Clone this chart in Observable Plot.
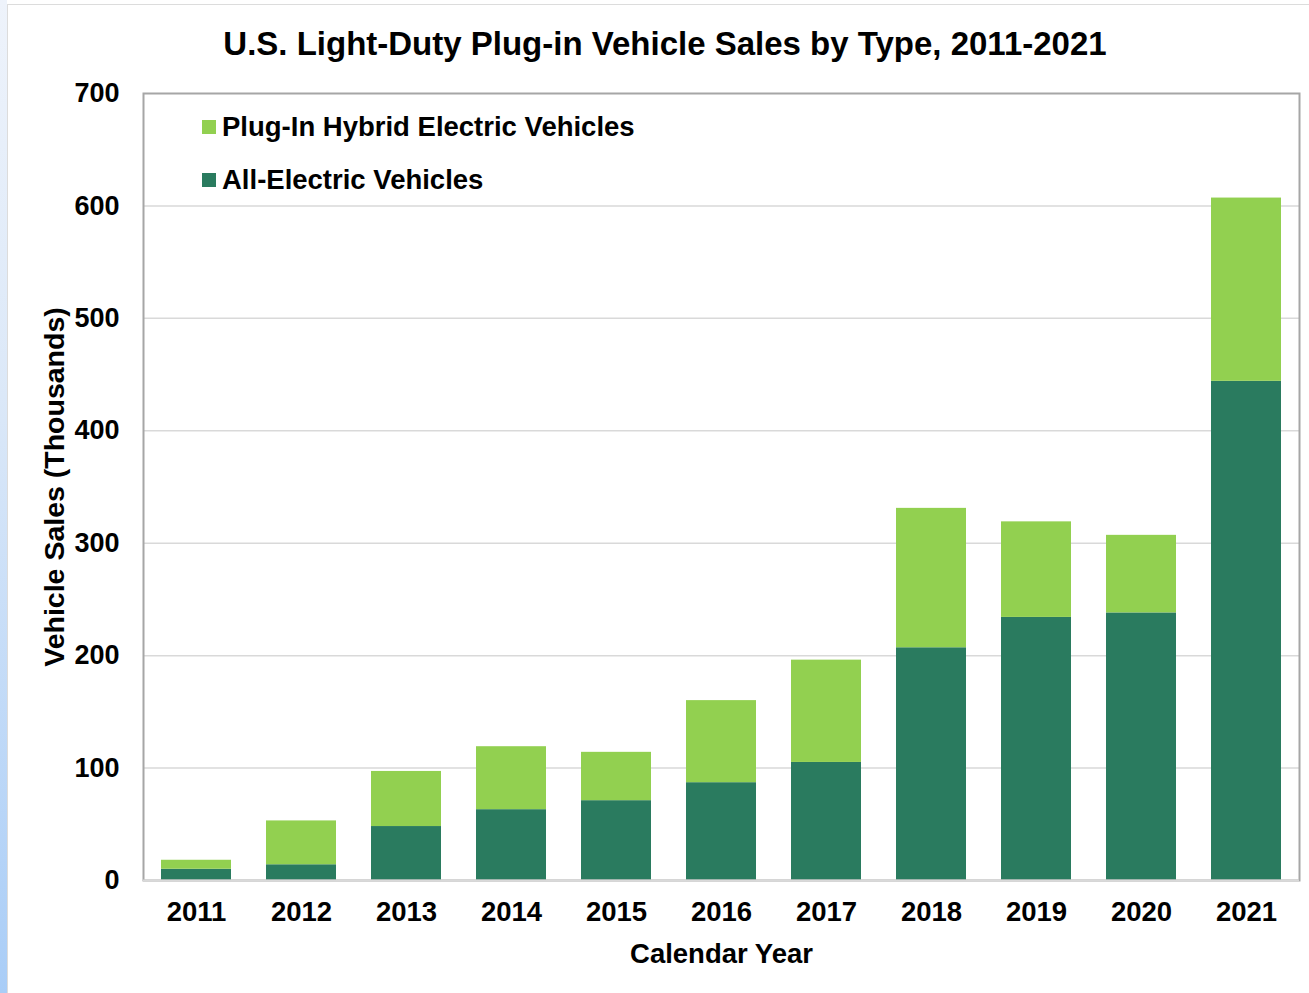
<!DOCTYPE html>
<html>
<head>
<meta charset="utf-8">
<script src="https://cdn.jsdelivr.net/npm/d3@7"></script>
<script src="https://cdn.jsdelivr.net/npm/@observablehq/plot@0.6"></script>
<style>
  html, body { margin: 0; padding: 0; background: #fff; }
  body { width: 1309px; height: 993px; overflow: hidden; position: relative; font-family: "Liberation Sans", Arial, sans-serif; }
  #strip { position: absolute; left: 0; top: 0; width: 7px; height: 993px; background: linear-gradient(to bottom, #eef3fb 0%, #dbe8f8 40%, #a9cdf7 100%); }
  #border { position: absolute; left: 7px; top: 4px; right: -2px; bottom: -2px; border-top: 1.5px solid #dcdcdc; border-left: 1.5px solid #dcdcdc; }
  #title { position: absolute; left: 0; top: 25px; width: 1330px; text-align: center; font-size: 33px; font-weight: bold; color: #000; }
  #chart { position: absolute; left: 0; top: 0; }
  #legend { position: absolute; left: 202px; top: 100px; font-size: 27.5px; font-weight: bold; color: #000; }
  #legend .row { display: flex; align-items: center; height: 53px; }
  #legend .sw { width: 14px; height: 14px; margin-right: 6px; }
</style>
</head>
<body>
<div id="strip"></div>
<div id="border"></div>
<div id="chart"></div>
<div id="title">U.S. Light-Duty Plug-in Vehicle Sales by Type, 2011-2021</div>
<div id="legend"></div>
<script>
const years = ["2011","2012","2013","2014","2015","2016","2017","2018","2019","2020","2021"];
const allElectric = [10, 14, 48, 63, 71, 87, 105, 207, 234, 238, 444];
const plugInHybrid = [8, 39, 49, 56, 43, 73, 91, 124, 85, 69, 163];
const seriesNames = ["All-Electric Vehicles", "Plug-In Hybrid Electric Vehicles"];
const seriesColors = ["#2a7b5f", "#92d050"];
const yTicks = [0, 100, 200, 300, 400, 500, 600, 700];
const gridTicks = [100, 200, 300, 400, 500, 600];

const rows = [];
years.forEach((y, i) => {
  rows.push({year: y, type: seriesNames[0], value: allElectric[i]});
  rows.push({year: y, type: seriesNames[1], value: plugInHybrid[i]});
});

const chart = Plot.plot({
  width: 1309,
  height: 993,
  marginLeft: 143,
  marginRight: 10,
  marginTop: 93,
  marginBottom: 113,
  style: {fontFamily: "'Liberation Sans', Arial, sans-serif", fontSize: "27px", fontWeight: "bold", color: "#000", background: "transparent", overflow: "visible"},
  x: {domain: years, paddingInner: 0.333, paddingOuter: 0.167},
  y: {domain: [0, 700]},
  color: {domain: seriesNames, range: seriesColors},
  marks: [
    Plot.ruleY(gridTicks, {stroke: "#d9d9d9", strokeWidth: 1.5}),
    Plot.barY(rows, {x: "year", y: "value", fill: "type", order: seriesNames}),
    Plot.frame({stroke: "#a6a6a6", strokeWidth: 2}),
    Plot.ruleY([0], {stroke: "#d9d9d9", strokeWidth: 2}),
    Plot.axisX({tickSize: 0, tickPadding: 21, label: "Calendar Year", labelAnchor: "center", labelOffset: 82, labelArrow: "none", fontSize: 27.5}),
    Plot.axisY({ticks: yTicks, tickSize: 0, tickPadding: 24, label: null, fontSize: 27}),
    Plot.axisY({ticks: [], tickSize: 0, label: "Vehicle Sales (Thousands)", labelAnchor: "center", labelOffset: 100, labelArrow: "none", fontSize: 28.5})
  ]
});
document.getElementById("chart").appendChild(chart);

const legend = document.getElementById("legend");
[1, 0].forEach(i => {
  const row = document.createElement("div");
  row.className = "row";
  const sw = document.createElement("div");
  sw.className = "sw";
  sw.style.background = seriesColors[i];
  const t = document.createElement("span");
  t.textContent = seriesNames[i];
  row.appendChild(sw);
  row.appendChild(t);
  legend.appendChild(row);
});
</script>
</body>
</html>
